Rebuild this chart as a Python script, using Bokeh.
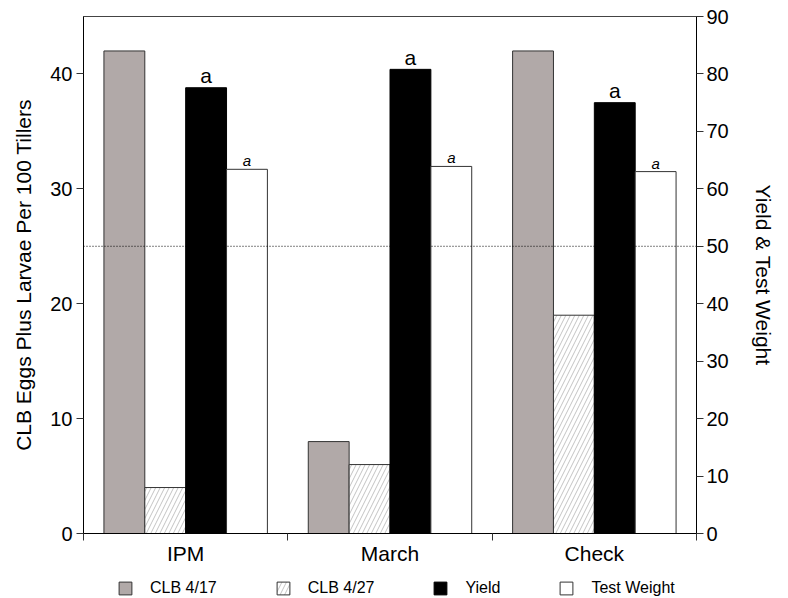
from bokeh.plotting import figure
from bokeh.models import (FactorRange, Range1d, LinearAxis, FixedTicker, Span,
                          Legend, LegendItem, ColumnDataSource)
from bokeh.layouts import column
from bokeh.transform import dodge
from bokeh.core.properties import value
from bokeh.embed import file_html
from bokeh.resources import INLINE

# ---------------- data ----------------
categories = ["IPM", "March", "Check"]
clb_417 = [42, 8, 42]
clb_427 = [4, 6, 19]
yield_vals = [77.6, 80.8, 75.0]
test_weight = [63.4, 63.9, 63.0]
yield_letters = ["a", "a", "a"]
tw_letters = ["a", "a", "a"]
left_ticks = [0, 10, 20, 30, 40]
right_ticks = [0, 10, 20, 30, 40, 50, 60, 70, 80, 90]
left_max = 45
right_max = 90
threshold = 25
legend_labels = ["CLB 4/17", "CLB 4/27", "Yield", "Test Weight"]

FONT = "Liberation Sans"
W = 788
H_MAIN, H_LEG = 572, 26
FRAME_L, FRAME_R, FRAME_T, FRAME_B = 83, 696, 16, 533
px_per_right_unit = (FRAME_B - FRAME_T) / right_max
yield_gap = 12 / px_per_right_unit      # letter gap above bars (pixels -> units)
tw_gap = 8.5 / px_per_right_unit

line_c = "#333333"
styles = [
    dict(fill_color="#b1a9a8", line_color=line_c, line_width=1),
    dict(fill_color="white", line_color=line_c, line_width=1,
         hatch_pattern="/", hatch_color="#b4b4b4", hatch_scale=9,
         hatch_weight=0.8),
    dict(fill_color="black", line_color="black", line_width=1),
    dict(fill_color="white", line_color=line_c, line_width=1),
]

src = ColumnDataSource(dict(cat=categories, c417=clb_417, c427=clb_427,
                            yld=yield_vals, tw=test_weight,
                            yl=yield_letters, tl=tw_letters,
                            yl_pos=[v + yield_gap for v in yield_vals],
                            tl_pos=[v + tw_gap for v in test_weight]))

p = figure(x_range=FactorRange(factors=categories),
           y_range=Range1d(0, left_max),
           width=W, height=H_MAIN, output_backend="svg",
           toolbar_location=None, x_axis_type=None,
           min_border_left=FRAME_L, min_border_right=W - FRAME_R,
           min_border_top=FRAME_T, min_border_bottom=H_MAIN - FRAME_B)
p.extra_y_ranges = {"right": Range1d(0, right_max)}
p.background_fill_color = "white"
p.border_fill_color = "white"
p.outline_line_color = "#444444"
p.outline_line_width = 1
p.ygrid.grid_line_color = None
p.xgrid.grid_line_color = None

p.vbar(x=dodge("cat", -0.3, range=p.x_range), top="c417", width=0.2,
       source=src, **styles[0])
p.vbar(x=dodge("cat", -0.1, range=p.x_range), top="c427", width=0.2,
       source=src, **styles[1])
p.vbar(x=dodge("cat", 0.1, range=p.x_range), top="yld", width=0.2,
       source=src, y_range_name="right", **styles[2])
p.vbar(x=dodge("cat", 0.3, range=p.x_range), top="tw", width=0.2,
       source=src, y_range_name="right", **styles[3])

p.text(x=dodge("cat", 0.1, range=p.x_range), y="yl_pos", text="yl", source=src,
       y_range_name="right", text_align="center", text_baseline="middle",
       text_font=value(FONT), text_font_size="21px", text_color="black")
p.text(x=dodge("cat", 0.3, range=p.x_range), y="tl_pos", text="tl", source=src,
       y_range_name="right", text_align="center", text_baseline="middle",
       text_font=value(FONT), text_font_size="15px",
       text_font_style="italic", text_color="black")

p.add_layout(Span(location=threshold, dimension="width", line_color="black",
                  line_width=1, line_dash="1 2"))

# ---------------- axes ----------------
def style_axis(ax):
    ax.axis_line_color = "black"
    ax.axis_line_width = 1
    ax.major_tick_line_color = "#333333"
    ax.major_tick_in = 0
    ax.major_tick_out = 7
    ax.minor_tick_line_color = None
    ax.major_label_text_font = FONT
    ax.major_label_text_font_size = "20px"
    ax.major_label_text_color = "black"
    ax.axis_label_text_font = FONT
    ax.axis_label_text_font_size = "21px"
    ax.axis_label_text_font_style = "normal"
    ax.axis_label_text_color = "black"

yl = p.yaxis[0]
yl.ticker = FixedTicker(ticks=left_ticks)
style_axis(yl)
yl.major_label_standoff = 4
yl.axis_label = "CLB Eggs Plus Larvae Per 100 Tillers"
yl.axis_label_standoff = 12

yr = LinearAxis(y_range_name="right", ticker=FixedTicker(ticks=right_ticks))
style_axis(yr)
yr.major_label_standoff = 3
yr.axis_label = "Yield & Test Weight"
yr.axis_label_standoff = 20
p.add_layout(yr, "right")

centers = [i + 0.5 for i in range(len(categories))]
bounds = [i for i in range(len(categories) + 1)]
xb = LinearAxis(ticker=FixedTicker(ticks=centers, minor_ticks=bounds),
                major_label_overrides={c: name for c, name in zip(centers, categories)})
style_axis(xb)
xb.major_tick_line_color = None
xb.major_tick_out = 0
xb.minor_tick_line_color = "#333333"
xb.minor_tick_in = 0
xb.minor_tick_out = 7
xb.major_label_text_font_size = "21px"
xb.major_label_standoff = 1
p.add_layout(xb, "below")

# ---------------- legend strip ----------------
lf = figure(width=W, height=H_LEG, output_backend="svg", toolbar_location=None,
            x_range=Range1d(0, 1), y_range=Range1d(0, 1),
            x_axis_type=None, y_axis_type=None,
            min_border_left=FRAME_L, min_border_right=W - FRAME_R,
            min_border_top=0, min_border_bottom=0)
lf.outline_line_color = None
lf.background_fill_color = "white"
lf.border_fill_color = "white"
# swatch renderers for the legend only (placed outside the strip's visible range)
leg_renderers = [lf.vbar(x=[-5], top=[-5], bottom=[-6], width=0.2, **st)
                 for st in styles]
legend = Legend(items=[LegendItem(label=lab, renderers=[r])
                       for lab, r in zip(legend_labels, leg_renderers)],
                orientation="horizontal", location=(34, 1),
                glyph_width=16, glyph_height=16, label_standoff=17,
                spacing=58, padding=0, margin=0,
                border_line_color=None, background_fill_alpha=0,
                label_text_font=FONT, label_text_font_size="16px",
                label_text_color="black", label_height=16)
lf.add_layout(legend)

open("out.html", "w").write(file_html(column(p, lf, spacing=0), INLINE))
